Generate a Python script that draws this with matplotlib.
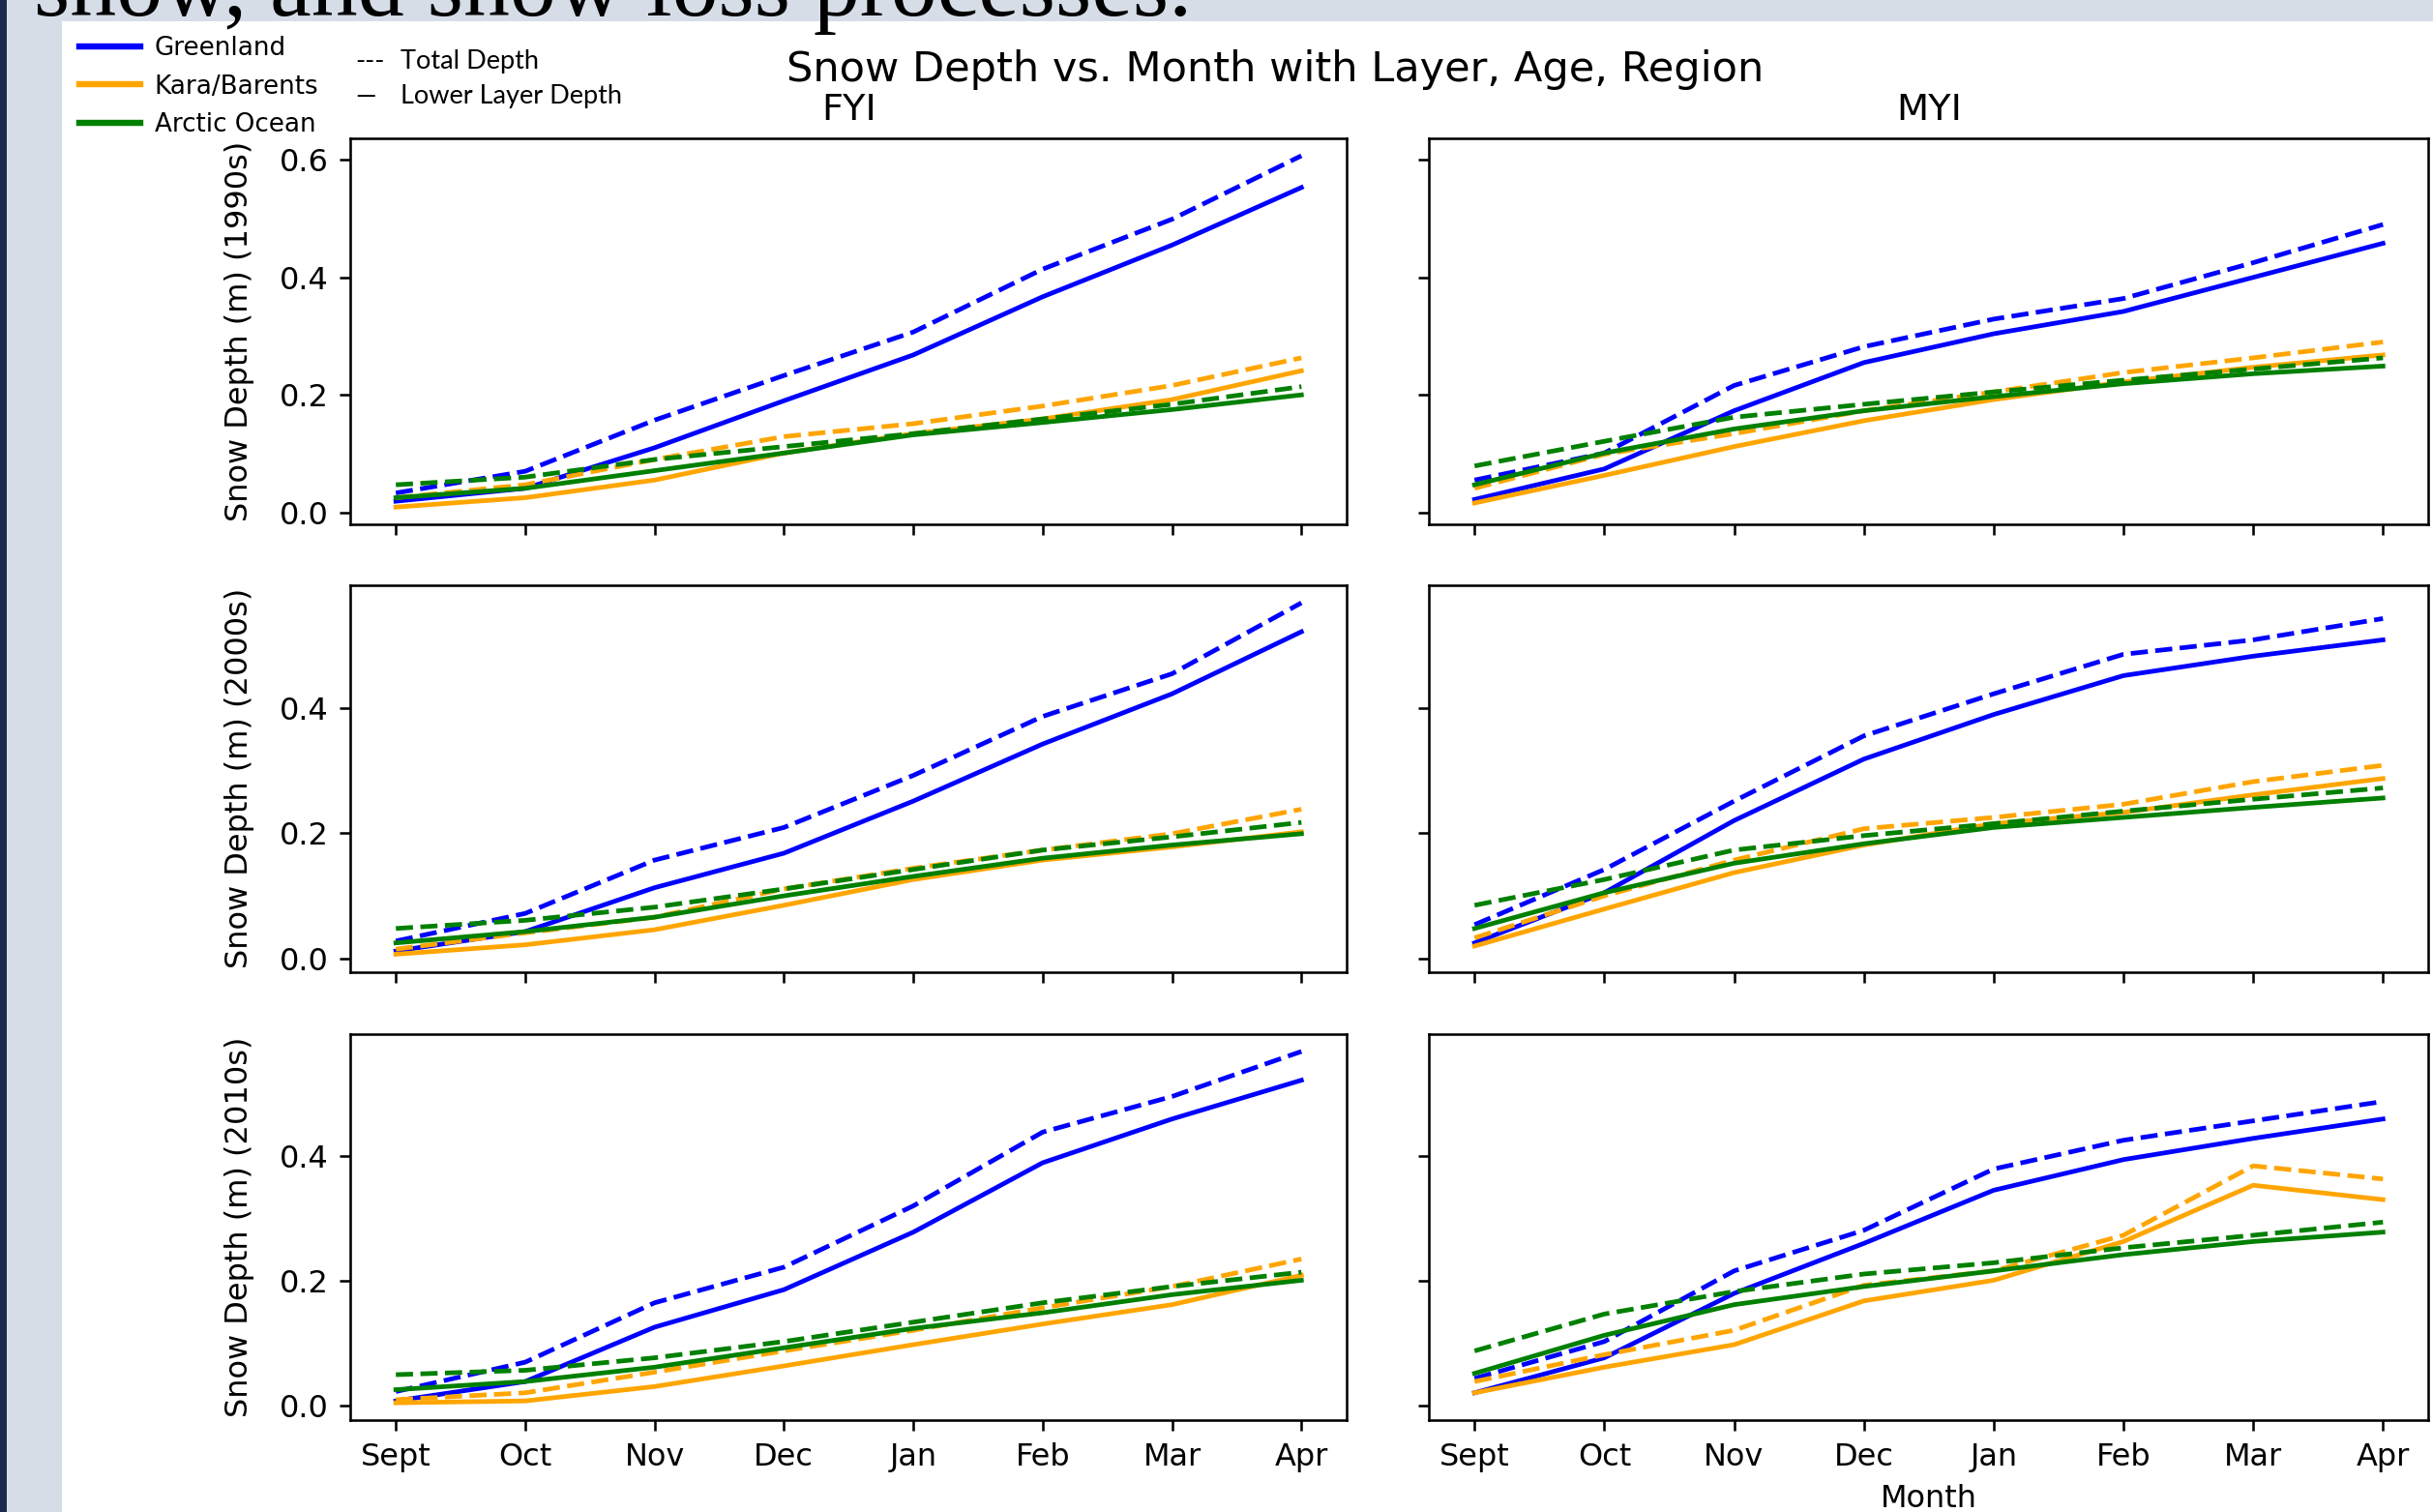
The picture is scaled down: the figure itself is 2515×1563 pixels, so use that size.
import numpy as np
import matplotlib
matplotlib.use('Agg')
import matplotlib.pyplot as plt
from matplotlib.lines import Line2D
from matplotlib.patches import Rectangle
from matplotlib.ticker import MultipleLocator

months = ['Sept', 'Oct', 'Nov', 'Dec', 'Jan', 'Feb', 'Mar', 'Apr']
regions = ['Greenland', 'Kara/Barents', 'Arctic Ocean']
region_colors = ['blue', 'orange', 'green']
decades = ['1990s', '2000s', '2010s']
ages = ['FYI', 'MYI']

# snow depth (m); rows = Greenland, Kara/Barents, Arctic Ocean
# *_total -> dashed (total depth), *_lower -> solid (lower layer depth)
fyi_1990s_total = [[0.033, 0.07, 0.157, 0.233, 0.307, 0.414, 0.499, 0.607],
                   [0.025, 0.047, 0.09, 0.129, 0.151, 0.181, 0.216, 0.263],
                   [0.047, 0.06, 0.09, 0.112, 0.134, 0.159, 0.184, 0.214]]
fyi_1990s_lower = [[0.019, 0.041, 0.11, 0.19, 0.268, 0.367, 0.455, 0.553],
                   [0.009, 0.025, 0.055, 0.101, 0.134, 0.159, 0.192, 0.241],
                   [0.025, 0.041, 0.071, 0.101, 0.132, 0.153, 0.175, 0.2]]
myi_1990s_total = [[0.055, 0.101, 0.216, 0.282, 0.329, 0.364, 0.425, 0.49],
                   [0.041, 0.099, 0.134, 0.173, 0.205, 0.238, 0.263, 0.29],
                   [0.079, 0.121, 0.162, 0.184, 0.205, 0.225, 0.244, 0.263]]
myi_1990s_lower = [[0.022, 0.074, 0.173, 0.255, 0.304, 0.342, 0.4, 0.458],
                   [0.016, 0.063, 0.112, 0.156, 0.192, 0.222, 0.247, 0.268],
                   [0.047, 0.101, 0.142, 0.173, 0.197, 0.219, 0.236, 0.249]]

fyi_2000s_total = [[0.028, 0.072, 0.157, 0.209, 0.292, 0.386, 0.454, 0.567],
                   [0.015, 0.041, 0.066, 0.111, 0.144, 0.173, 0.199, 0.238],
                   [0.048, 0.061, 0.082, 0.111, 0.142, 0.173, 0.194, 0.217]]
fyi_2000s_lower = [[0.012, 0.043, 0.113, 0.168, 0.251, 0.342, 0.422, 0.521],
                   [0.007, 0.022, 0.046, 0.085, 0.126, 0.157, 0.178, 0.202],
                   [0.025, 0.043, 0.066, 0.1, 0.131, 0.16, 0.181, 0.199]]
myi_2000s_total = [[0.054, 0.142, 0.251, 0.355, 0.422, 0.485, 0.508, 0.542],
                   [0.033, 0.1, 0.157, 0.207, 0.225, 0.246, 0.282, 0.308],
                   [0.085, 0.126, 0.173, 0.196, 0.215, 0.235, 0.254, 0.272]]
myi_2000s_lower = [[0.025, 0.105, 0.22, 0.318, 0.389, 0.451, 0.482, 0.508],
                   [0.02, 0.079, 0.137, 0.181, 0.215, 0.233, 0.261, 0.287],
                   [0.048, 0.105, 0.152, 0.183, 0.209, 0.225, 0.241, 0.256]]

fyi_2010s_total = [[0.023, 0.07, 0.165, 0.222, 0.32, 0.438, 0.495, 0.567],
                   [0.01, 0.021, 0.054, 0.088, 0.121, 0.157, 0.191, 0.235],
                   [0.05, 0.057, 0.077, 0.103, 0.134, 0.165, 0.191, 0.214]]
fyi_2010s_lower = [[0.008, 0.039, 0.126, 0.186, 0.278, 0.389, 0.459, 0.521],
                   [0.005, 0.008, 0.031, 0.064, 0.098, 0.131, 0.162, 0.209],
                   [0.026, 0.039, 0.062, 0.093, 0.124, 0.149, 0.178, 0.201]]
myi_2010s_total = [[0.044, 0.103, 0.216, 0.281, 0.379, 0.425, 0.456, 0.487],
                   [0.039, 0.082, 0.121, 0.193, 0.216, 0.273, 0.384, 0.363],
                   [0.088, 0.147, 0.183, 0.211, 0.229, 0.253, 0.273, 0.294]]
myi_2010s_lower = [[0.021, 0.077, 0.18, 0.26, 0.345, 0.394, 0.428, 0.459],
                   [0.021, 0.062, 0.098, 0.168, 0.201, 0.263, 0.353, 0.33],
                   [0.052, 0.113, 0.162, 0.191, 0.216, 0.242, 0.263, 0.278]]

panels = {('1990s', 'FYI'): (fyi_1990s_total, fyi_1990s_lower),
          ('1990s', 'MYI'): (myi_1990s_total, myi_1990s_lower),
          ('2000s', 'FYI'): (fyi_2000s_total, fyi_2000s_lower),
          ('2000s', 'MYI'): (myi_2000s_total, myi_2000s_lower),
          ('2010s', 'FYI'): (fyi_2010s_total, fyi_2010s_lower),
          ('2010s', 'MYI'): (myi_2010s_total, myi_2010s_lower)}

W, H = 2515, 1563
fig = plt.figure(figsize=(W / 230, H / 230), dpi=230, facecolor='#d6dde7')

# slide pieces around the pasted figure
fig.add_artist(Rectangle((64 / W, 0), 1, 1 - 22 / H, transform=fig.transFigure,
                         facecolor='white', edgecolor='none', zorder=0))
fig.add_artist(Rectangle((0, 0), 7 / W, 1, transform=fig.transFigure,
                         facecolor='#1b2a4c', edgecolor='none', zorder=1))
fig.text(35 / W, 1 - 16 / H, 'snow, and snow loss processes.', family='Liberation Serif',
         fontsize=30, va='baseline', ha='left', zorder=2)

col_x = [0.1441, 0.5874]
col_w = [0.4094, 0.4107]
row_y = [0.653, 0.3573, 0.0606]
row_h = 0.2556

x = np.arange(len(months))
axes = {}
first = None
for r, dec in enumerate(decades):
    row_first = None
    for c, age in enumerate(ages):
        ax = fig.add_axes([col_x[c], row_y[r], col_w[c], row_h],
                          sharex=first, sharey=row_first)
        if first is None:
            first = ax
        if row_first is None:
            row_first = ax
        axes[(dec, age)] = ax
        total, lower = panels[(dec, age)]
        for i, col in enumerate(region_colors):
            ax.plot(x, total[i], '--', color=col)
            ax.plot(x, lower[i], '-', color=col)
        ax.yaxis.set_major_locator(MultipleLocator(0.2))
        ax.set_xticks(x)
        ax.set_xticklabels(months)
        if r < 2:
            ax.tick_params(labelbottom=False)
        if c == 1:
            ax.tick_params(labelleft=False)
        else:
            ax.set_ylabel('Snow Depth (m) (' + dec + ')', labelpad=8)
        if r == 0:
            ax.set_title(age)

axes[('2010s', 'MYI')].set_xlabel('Month')

fig.text(0.524, 1 - 45 / 974, 'Snow Depth vs. Month with Layer, Age, Region',
         fontsize=13.5, ha='center', va='center')

# region legend
handles = [Line2D([], [], color=c, lw=2) for c in region_colors]
fig.legend(handles, regions, loc='upper left', bbox_to_anchor=(72 / W, 1 - 27 / H),
           frameon=False, fontsize=8.2, handlelength=2.4, handletextpad=0.55,
           labelspacing=0.5, borderaxespad=0)

# line style key (added as text on the slide)
fig.text(367 / W, 1 - 63 / H, '---', family='Lato', fontsize=8.5, va='center')
fig.text(414 / W, 1 - 63 / H, 'Total Depth', family='Lato', fontsize=8.5, va='center')
fig.text(367 / W, 1 - 100 / H, '\u2014', family='Lato', fontsize=8.5, va='center')
fig.text(414 / W, 1 - 100 / H, 'Lower Layer Depth', family='Lato', fontsize=8.5, va='center')

fig.savefig('out.png', dpi=230, facecolor=fig.get_facecolor())
